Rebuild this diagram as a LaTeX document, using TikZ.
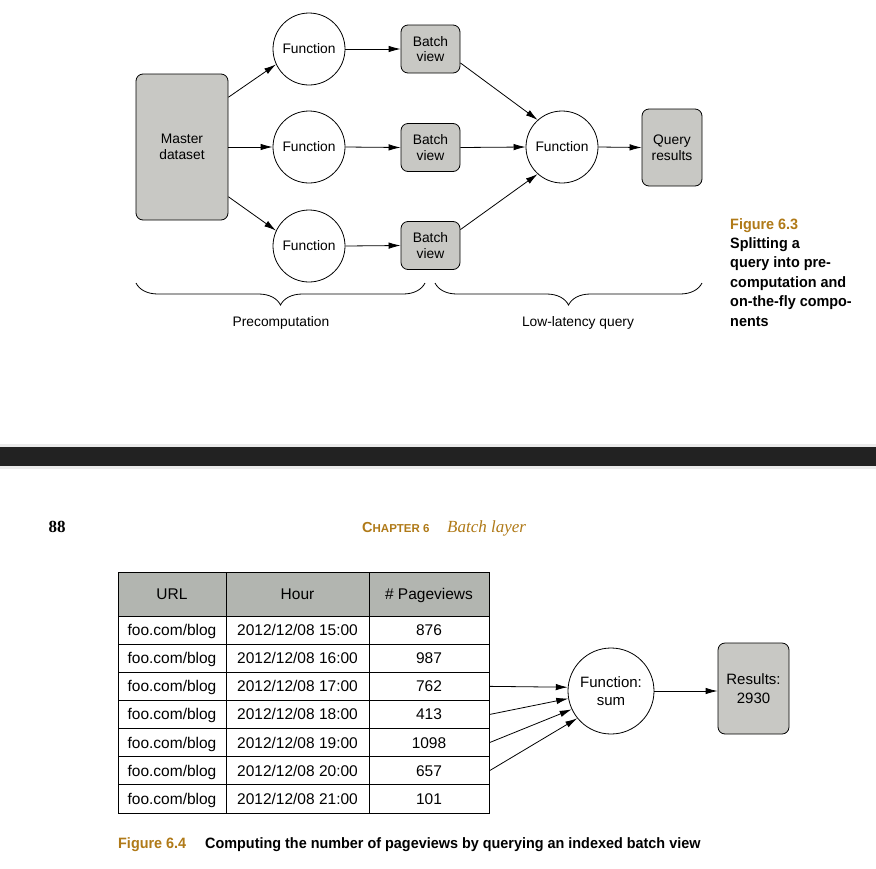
\documentclass[tikz,border=0pt]{standalone}
\usepackage{fontspec}
\setmainfont{Liberation Sans}
\newfontfamily\headserif{Liberation Serif}
\newfontfamily\capfont[FakeStretch=0.96]{Liberation Sans}
\usetikzlibrary{arrows.meta,positioning,decorations.pathreplacing}

\definecolor{boxgray}{RGB}{200,200,196}
\definecolor{headgray}{RGB}{178,181,176}
\definecolor{capgold}{RGB}{176,122,24}
\definecolor{bardark}{RGB}{34,34,34}
\definecolor{barlight}{RGB}{235,235,235}

\begin{document}
\begin{tikzpicture}[
    x=1pt, y=-1pt,
    every node/.style={inner sep=0pt},
    fnode/.style={circle, draw, line width=0.8pt, fill=white, minimum size=72pt, align=center, font=\fontsize{13.8}{15.5}\selectfont},
    graybox/.style={rectangle, draw, line width=0.8pt, fill=boxgray, rounded corners=7pt, align=center, font=\fontsize{13.8}{15.5}\selectfont},
    viewbox/.style={graybox, minimum width=59pt, minimum height=48pt},
    arrow/.style={-{Latex[length=12pt,width=6.5pt]}, line width=0.8pt},
    bracelabel/.style={font=\fontsize{13.8}{16}\selectfont},
    cell/.style={rectangle, draw, line width=0.8pt, minimum height=28.15pt, text height=11pt, text depth=0pt, font=\fontsize{15.5}{18}\selectfont},
    headcell/.style={cell, fill=headgray, minimum height=44pt},
    capnum/.style={text=capgold, font=\capfont\bfseries\fontsize{15}{19.4}\selectfont}
]

\path[fill=white, use as bounding box] (0,0) rectangle (876,868);

% Figure 6.3
\node[graybox, minimum width=92pt, minimum height=146pt] (master) at (182,147) {Master\\dataset};
\node[fnode] (fn1) at (309,49) {Function};
\node[fnode] (fn2) at (309,147) {Function};
\node[fnode] (fn3) at (309,246) {Function};
\node[viewbox] (bv1) at (430.5,49) {Batch\\view};
\node[viewbox] (bv2) at (430.5,147.5) {Batch\\view};
\node[viewbox] (bv3) at (430.5,245.5) {Batch\\view};
\node[fnode] (qfn) at (562,147) {Function};
\node[graybox, minimum width=60pt, minimum height=77pt] (qres) at (672,147.5) {Query\\results};

\draw[arrow] (master.47) -- (fn1.205);
\draw[arrow] (master.east) -- (fn2.west);
\draw[arrow] (master.-47) -- (fn3.155);
\draw[arrow] (fn1.east) -- (bv1.west);
\draw[arrow] (fn2.east) -- (bv2.west);
\draw[arrow] (fn3.east) -- (bv3.west);
\draw[arrow] (bv1.-25) -- (qfn.132);
\draw[arrow] (bv2.east) -- (qfn.west);
\draw[arrow] (bv3.28) -- (qfn.228);
\draw[arrow] (qfn.east) -- (qres.west);

% Braces
\coordinate (preL) at (136,283);
\coordinate (preR) at (425,283);
\coordinate (lowL) at (435,283);
\coordinate (lowR) at (702,283);
\draw[line width=0.8pt, decorate, decoration={brace, mirror, amplitude=22pt}] (preL) -- (preR);
\draw[line width=0.8pt, decorate, decoration={brace, mirror, amplitude=22pt}] (lowL) -- (lowR);
\node[bracelabel] (prelabel) at (281,323) {Precomputation};
\node[bracelabel] (lowlabel) at (578,323) {Low-latency query};

\node[anchor=north west, align=left, font=\capfont\bfseries\fontsize{15}{19.4}\selectfont] (cap63) at (730,218)
  {\textcolor{capgold}{Figure 6.3}\\Splitting a\\query into pre-\\computation and\\on-the-fly compo-\\nents};

% Page break
\fill[barlight] (0,444) rectangle (876,469);
\fill[bardark] (0,447) rectangle (876,466);

\node[anchor=base, font=\headserif\bfseries\fontsize{17}{20}\selectfont] (pagenum) at (57,532) {88};
\node[anchor=base west, text=capgold, font=\bfseries\fontsize{14.5}{17}\selectfont] (chapter) at (362,532)
  {C{\fontsize{11.5}{14}\selectfont HAPTER 6}};
\node[anchor=base west, text=capgold, font=\headserif\itshape\fontsize{17}{20}\selectfont] (chaptitle) at (447,532) {Batch layer};

% Figure 6.4 table
\node[headcell, minimum width=108pt] (urlhead) at (172,594) {URL};
\node[headcell, minimum width=143pt] (hourhead) at (297.5,594) {Hour};
\node[headcell, minimum width=120pt] (pvhead) at (429,594) {\# Pageviews};
\foreach \hr/\pv [count=\r] in {15/876,16/987,17/762,18/413,19/1098,20/657,21/101} {
  \pgfmathsetmacro\ry{630.07+(\r-1)*28.14}
  \node[cell, minimum width=108pt] (url\r) at (172,\ry) {foo.com/blog};
  \node[cell, minimum width=143pt] (hour\r) at (297.5,\ry) {2012/12/08 \hr:00};
  \node[cell, minimum width=120pt] (pv\r) at (429,\ry) {\pv};
}

\node[fnode, minimum size=86pt, font=\fontsize{15}{18.5}\selectfont] (sum) at (611,691) {Function:\\sum};
\node[graybox, minimum width=71pt, minimum height=91pt, font=\fontsize{15}{19}\selectfont] (results) at (753.5,688.5) {Results:\\2930};

\draw[arrow] (pv3.east) -- (sum.175);
\draw[arrow] (pv4.east) -- (sum.190);
\draw[arrow] (pv5.east) -- (sum.205);
\draw[arrow] (pv6.east) -- (sum.219);
\draw[arrow] (sum.east) -- (sum.east -| results.west);

\node[anchor=base west, capnum] (cap64) at (118,848.5) {Figure 6.4};
\node[anchor=base west, font=\capfont\bfseries\fontsize{15}{19.4}\selectfont] (cap64text) at (205,848.5)
  {Computing the number of pageviews by querying an indexed batch view};

\end{tikzpicture}
\end{document}
